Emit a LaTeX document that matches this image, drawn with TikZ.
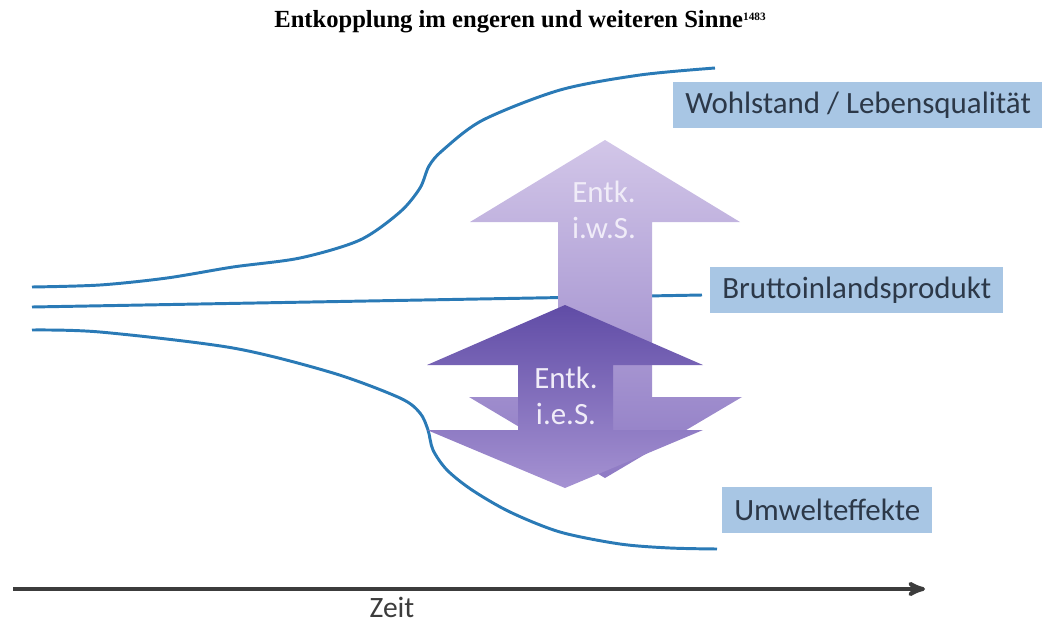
\documentclass[tikz,border=0pt]{standalone}
\usepackage{fontspec}
\setmainfont{Carlito}
\newfontfamily\titlefont{Liberation Serif}
\usetikzlibrary{arrows,positioning}
\definecolor{trendblue}{RGB}{42,122,182}
\definecolor{boxblue}{RGB}{168,198,228}
\definecolor{boxtext}{RGB}{44,56,72}
\definecolor{iwstop}{RGB}{210,198,232}
\definecolor{iwsbot}{RGB}{142,122,196}
\definecolor{iestop}{RGB}{96,76,166}
\definecolor{iesbot}{RGB}{165,146,210}
\definecolor{entktext}{RGB}{240,236,248}
\definecolor{axisgray}{RGB}{60,60,60}

\begin{document}
\begin{tikzpicture}[x=0.025cm,y=-0.025cm,>=stealth']
        \tikzstyle{trend}=[draw=trendblue,line width=2.1pt]
        \tikzstyle{box}=[fill=boxblue,text=boxtext,anchor=west,minimum height=1.15cm,inner xsep=0.3cm,font=\fontsize{22}{26}\selectfont]
        \tikzstyle{entk}=[align=center,text=entktext,font=\fontsize{22}{25.6}\selectfont]
        \useasboundingbox (0,0) rectangle (1042,626);

        \node (title) at (520,22) {\titlefont\bfseries\fontsize{17.5}{20}\selectfont Entkopplung im engeren und weiteren Sinne\raisebox{5pt}{\fontsize{8}{9}\selectfont 1483}};

        % the three lines
        \draw[trend] plot[smooth] coordinates {(32,287) (100,285) (167,278) (233,267) (300,258) (360,240) (400,212) (420,188) (429,166) (443,150) (483,120) (560,90) (640,75) (715,68)};
        \draw[trend] (32,307) -- (702,295);
        \draw[trend] plot[smooth] coordinates {(32,330) (100,332) (233,348) (333,373) (400,398) (420,413) (428,430) (433,450) (447,470) (472,490) (510,512) (560,532) (620,544) (670,548) (717,549)};

        % i.w.S. arrow
        \shade[top color=iwstop,bottom color=iwsbot] (605,140) -- (740,222) -- (652,222) -- (652,397) -- (742,397) -- (605,478) -- (469,397) -- (558,397) -- (558,222) -- (470,222) -- cycle;
        % i.e.S. arrow
        \shade[top color=iestop,bottom color=iesbot] (565,305) -- (703,365) -- (613,365) -- (613,430) -- (703,430) -- (565,488) -- (427,430) -- (518,430) -- (518,365) -- (427,365) -- cycle;
        \node[entk] (iws) at (604,210) {Entk.\\i.w.S.};
        \node[entk] (ies) at (566,396) {Entk.\\i.e.S.};

        \node[box] (wohl) at (673,105) {Wohlstand / Lebensqualität};
        \node[box] (bip) at (710,290) {Bruttoinlandsprodukt};
        \node[box] (umwelt) at (722,510) {Umwelteffekte};

        % time axis
        \coordinate (t0) at (13,589);
        \coordinate (t1) at (925,589);
        \draw[->,axisgray,line width=2.8pt] (t0) -- (t1);
        \node[text=axisgray,inner sep=0pt,font=\fontsize{21}{24}\selectfont] (zeit) at (392,607) {Zeit};
\end{tikzpicture}
\end{document}
